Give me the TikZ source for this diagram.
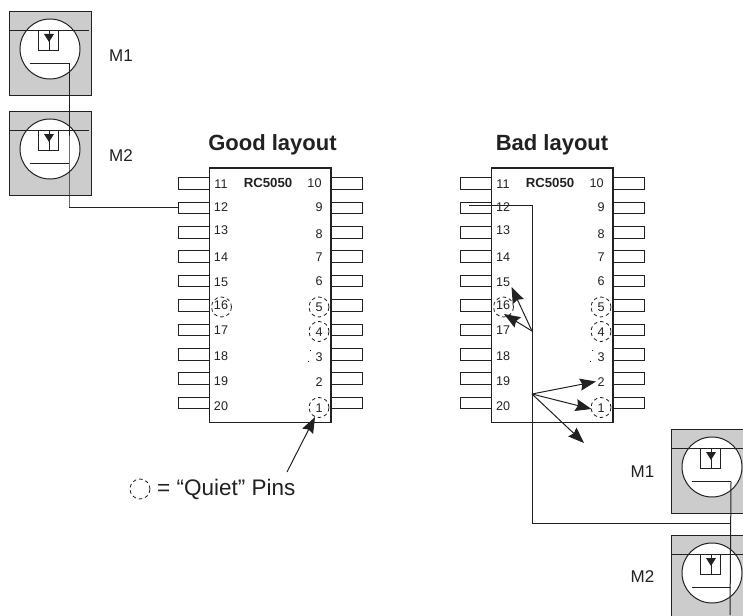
\documentclass[tikz,border=0pt]{standalone}
\usepackage{fontspec}
\setmainfont{Liberation Sans}
\usetikzlibrary{arrows.meta}
\definecolor{ink}{gray}{0.13}
\definecolor{boxgray}{gray}{0.8}
\tikzset{
  wire/.style={draw=ink,line width=1pt},
  pinbox/.style={draw=ink,line width=1pt,rectangle,minimum width=31pt,minimum height=11.5pt,inner sep=0pt,outer sep=0pt},
  chipbody/.style={draw=ink,line width=1.1pt,rectangle,minimum width=121.5pt,minimum height=254.5pt,inner sep=0pt,outer sep=0pt},
  pinlabel/.style={font=\fontsize{12.6}{14}\selectfont,text=ink,inner sep=0pt},
  chipname/.style={font=\fontsize{13.2}{15}\selectfont\bfseries,text=ink,inner sep=0pt},
  heading/.style={font=\fontsize{22}{25}\selectfont\bfseries,text=ink,inner sep=0pt},
  mlabel/.style={font=\fontsize{17}{20}\selectfont,text=ink,inner sep=0pt},
  quiet/.style={draw=ink,line width=0.8pt,dash pattern=on 3.5pt off 3pt,circle,minimum size=20pt,inner sep=0pt},
  pointer/.style={draw=ink,line width=1pt,-{Stealth[length=16pt,width=12pt,inset=2pt]}},
}
\newcommand{\mosfet}[3]{%
  \begin{scope}[shift={(#2,#3)}]
    \node[draw=ink,line width=1.1pt,fill=boxgray,rectangle,minimum width=82pt,minimum height=84pt,inner sep=0pt,anchor=north west] (#1box) at (0,0) {};
    \node[draw=ink,line width=1pt,fill=white,circle,minimum size=60pt,inner sep=0pt] (#1circ) at (41,38) {};
    \draw[wire] (0,19.5) -- (80,19.5);
    \draw[wire] (29,19.5) -- (29,39.5) -- (49.5,39.5) -- (49.5,19.5);
    \draw[wire] (40,19.5) -- (40,39.5);
    \fill[ink] (35,23) -- (45,23) -- (40,31) -- cycle;
    \coordinate (#1gl) at (20.5,52.5);
    \coordinate (#1gate) at (60,52.5);
    \draw[wire] (#1gl) -- (#1gate);
  \end{scope}}
\newcommand{\chip}[2]{%
  \begin{scope}[shift={(#2,0)}]
    \node[chipbody] (#1body) at (270.25,295.25) {};
    \foreach \n/\i in {11/0,12/1,13/2,14/3,15/4,16/5,17/6,18/7,19/8,20/9}
      \node[pinbox] (#1p\n) at (193.5,183.5+24.4*\i) {};
    \foreach \n/\i in {10/0,9/1,8/2,7/3,6/4,5/5,4/6,3/7,2/8,1/9}
      \node[pinbox] (#1p\n) at (346.5,183.5+24.4*\i) {};
    \foreach \n/\y in {11/184,12/207,13/230,14/257,15/282,16/305.5,17/330,18/356,19/381,20/406}
      \node[pinlabel,anchor=center] (#1l\n) at (221,\y) {\n};
    \foreach \n/\y in {9/207,8/234,7/257,6/281,5/307,4/332,3/357,2/382,1/408}
      \node[pinlabel,anchor=center] (#1l\n) at (319,\y) {\n};
    \node[pinlabel,anchor=center] (#1l10) at (314.5,183) {10};
    \node[chipname] (#1name) at (268,183) {RC5050};
    \node[quiet] (#1q16) at (221.5,307) {};
    \node[quiet] (#1q5) at (319,307) {};
    \node[quiet] (#1q4) at (319,331.5) {};
    \node[quiet] (#1q1) at (319,407.5) {};
    \draw[ink,line width=0.6pt] (310,349.5) -- (310,351);
    \draw[ink,line width=0.6pt] (308,360.5) -- (308,362);
  \end{scope}}
\begin{document}
\begin{tikzpicture}[x=1pt,y=-1pt]
  \useasboundingbox (0,0) rectangle (743,615);
  \clip (0,0) rectangle (743,615);
  % left transistors
  \mosfet{a}{9}{11}
  \mosfet{b}{9}{111}
  \node[mlabel] (am1) at (121,56) {M1};
  \node[mlabel] (am2) at (121,156) {M2};
  % chips
  \chip{g}{0}
  \chip{h}{282}
  \node[heading] (gh) at (272.5,145) {Good layout};
  \node[heading] (hh) at (552,145) {Bad layout};
  % good wiring
  \draw[wire] (agate) -- ++(0,143.5) |- (gp12.west);
  % legend and pointer
  \node[quiet] (lq) at (140,489) {};
  \node[font=\fontsize{22.5}{26}\selectfont,text=ink,inner sep=0pt,anchor=base west] (lt) at (157,495) {= “Quiet” Pins};
  \coordinate (pa) at (287,472);
  \coordinate (pb) at (315,417);
  \draw[pointer] (pa) -- (pb);
  % right transistors
  \mosfet{c}{671}{429}
  \mosfet{d}{671}{535}
  \node[mlabel] (cm1) at (642.5,472) {M1};
  \node[mlabel] (cm2) at (642.5,577) {M2};
  % bad wiring
  \coordinate (w0) at (469,205.5);
  \coordinate (w1) at (532,205.5);
  \coordinate (w2) at (532,523);
  \coordinate (w3) at (730,523);
  \coordinate (w4) at (730,615);
  \draw[wire] (w0) -- (w1) -- (w2) -- (w3);
  \draw[wire] (cgate) -- (w4);
  % bad current arrows
  \coordinate (s1) at (532,331);
  \coordinate (s2) at (532,394);
  \coordinate (t1) at (511.5,287);
  \coordinate (t2) at (504,314);
  \coordinate (t3) at (596,381.5);
  \coordinate (t4) at (591.5,409);
  \coordinate (t5) at (584,443);
  \foreach \s/\t in {s1/t1,s1/t2,s2/t3,s2/t4,s2/t5}
    \draw[pointer] (\s) -- (\t);
\end{tikzpicture}
\end{document}
